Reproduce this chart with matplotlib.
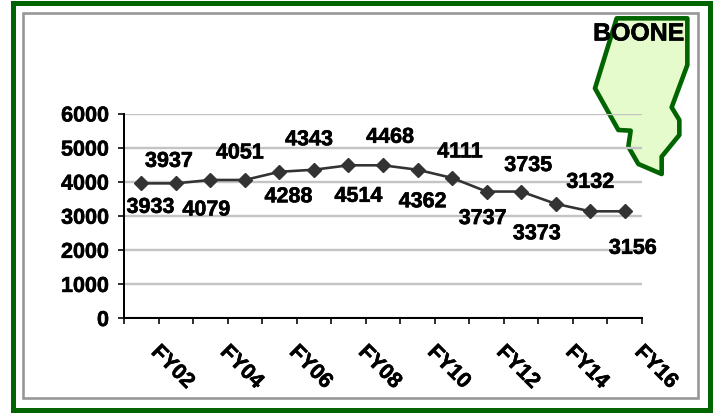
import matplotlib
matplotlib.use("Agg")
import matplotlib.pyplot as plt
import matplotlib.patheffects as pe
from matplotlib.patches import Polygon, Rectangle

W, H = 717, 413
DPI = 100
plt.rcParams['font.family'] = ['Liberation Sans', 'DejaVu Sans']

years = ['FY02','FY03','FY04','FY05','FY06','FY07','FY08','FY09','FY10','FY11','FY12','FY13','FY14','FY15','FY16']
values = [3933,3937,4079,4051,4288,4343,4514,4468,4362,4111,3737,3735,3373,3132,3156]
# heights of the markers as drawn in the picture (they differ slightly from the printed labels)
plotted = [3950,3950,4050,4050,4290,4350,4480,4480,4350,4110,3710,3710,3350,3130,3130]
yticks = [0,1000,2000,3000,4000,5000,6000]
# label centres relative to each point, in pixels (right, up)
offsets = [(9,-24),(-7,22),(-4,-30),(-5,27),(9,-25),(-5,30),(10,-31),(7,28),(5,-32),(8,26),(-4,-27),(7,26),(-19,-30),(0,29),(8,-37)]
county = 'BOONE'
map_px = [(170,55),(382,55),(382,195),(335,322),(358,360),(358,405),(305,470),(305,522),
          (235,492),(205,440),(212,392),(175,390),(105,265)]

def fx(x): return x / W
def fy(y): return 1 - y / H
pt = 72 / DPI
FS = 15.5
bold = [pe.withStroke(linewidth=0.6*pt, foreground='black')]

fig = plt.figure(figsize=(W/DPI, H/DPI), dpi=DPI, facecolor='white')

# frames
fig.add_artist(Rectangle((fx(13), fy(409.5)), fx(696.5), 407/H, transform=fig.transFigure,
                         fill=False, ec='#006400', lw=5*pt, zorder=-3))
fig.add_artist(Rectangle((fx(23), fy(398)), fx(674.5), 385/H, transform=fig.transFigure,
                         fill=False, ec='#969696', lw=2.6*pt, zorder=-3))
# county shape
poly = [(fx(560 + x/3), fy(y/3)) for x, y in map_px]
fig.add_artist(Polygon(poly, closed=True, transform=fig.transFigure, fc='#E6FBCB', ec='#006400',
                       lw=4.6*pt, joinstyle='round', zorder=-2))

ax = fig.add_axes([fx(124), fy(318), (642-124)/W, (318-113.5)/H])
ax.patch.set_alpha(0)
ax.set_xlim(0, 15)
ax.set_ylim(0, 6000)
for s in ('top','right'):
    ax.spines[s].set_visible(False)
for s in ('left','bottom'):
    ax.spines[s].set_linewidth(2*pt)
ax.yaxis.grid(True, color='#C4C4C4', lw=2.4*pt)
ax.set_axisbelow(True)
ax.set_xticks(range(16))
ax.set_xticklabels([])
ax.set_yticks(yticks)
ax.tick_params(axis='both', length=6*pt, width=1.6*pt, color='black')
ax.tick_params(axis='y', pad=9*pt, labelsize=FS)
for l in ax.get_yticklabels():
    l.set_fontweight('bold')
    l.set_path_effects(bold)

xs = [i + 0.5 for i in range(len(values))]
ax.plot(xs, plotted, color='#333333', lw=2.6*pt, marker='D', ms=9.5*pt, mfc='#333333', mec='#333333', clip_on=False)

for x, p, v, (dx, dy) in zip(xs, plotted, values, offsets):
    ax.annotate(str(v), (x, p), xytext=(dx*pt, dy*pt), textcoords='offset points', ha='center', va='center',
                fontsize=FS, fontweight='bold', color='black', zorder=5, path_effects=bold)

for i, (x, name) in enumerate(zip(xs, years)):
    if i % 2 == 0:
        ax.annotate(name, (x, 0), xytext=(13*pt, -31*pt), textcoords='offset points', ha='left', va='center',
                    rotation=-45, rotation_mode='anchor', fontsize=FS, fontweight='bold',
                    color='black', annotation_clip=False, path_effects=bold)

fig.text(fx(638.5), fy(33.5), county, ha='center', va='center', fontsize=17.9, fontweight='bold',
         color='black', path_effects=bold)
fig.savefig('out.png', dpi=DPI)
